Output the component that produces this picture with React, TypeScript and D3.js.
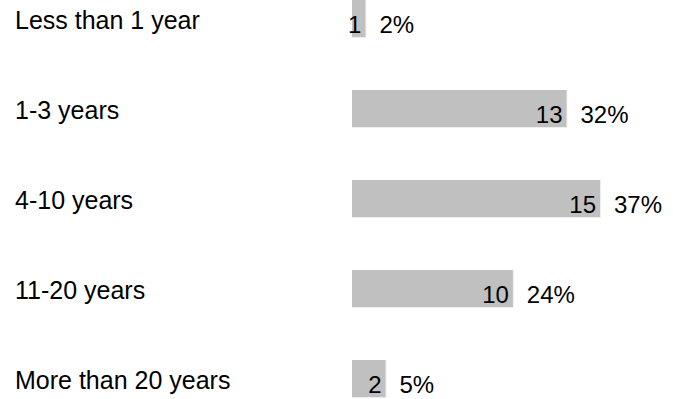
import React from "react";
import * as d3 from "d3";

const categories = [
  "Less than 1 year",
  "1-3 years",
  "4-10 years",
  "11-20 years",
  "More than 20 years",
];
const counts = [1, 13, 15, 10, 2];
const percents = [2, 32, 37, 24, 5];

const W = 673;
const H = 399;
const FONT = "'Liberation Sans', Arial, sans-serif";

export default function App() {
  const x = d3.scaleLinear().domain([0, 37]).range([352, 600]);
  const y = d3.scaleBand<string>().domain(categories).range([0, 450]).padding(0);
  const barH = 37;

  return (
    <svg
      width={W}
      height={H}
      style={{ position: "absolute", left: 0, top: 0, background: "#fff" }}
      fontFamily={FONT}
      fontSize={24}
    >
      {categories.map((c, i) => {
        const y0 = y(c) ?? 0;
        const x1 = x(percents[i]);
        return (
          <g key={c}>
            <text x={15} y={y0 + 29} fill="#000" fontSize={25}>
              {c}
            </text>
            {/* faint edge around the bar */}
            <rect x={x(0)} y={y0} width={x1 - x(0) + 1} height={barH + 1} fill="#eeeeee" />
            <rect x={x(0)} y={y0} width={x1 - x(0)} height={barH} fill="#c0c0c0" />
            <text x={x1 - 4} y={y0 + 33} textAnchor="end" fill="#000">
              {counts[i]}
            </text>
            <text x={x1 + 14} y={y0 + 33} fill="#000">
              {percents[i]}%
            </text>
          </g>
        );
      })}
    </svg>
  );
}
